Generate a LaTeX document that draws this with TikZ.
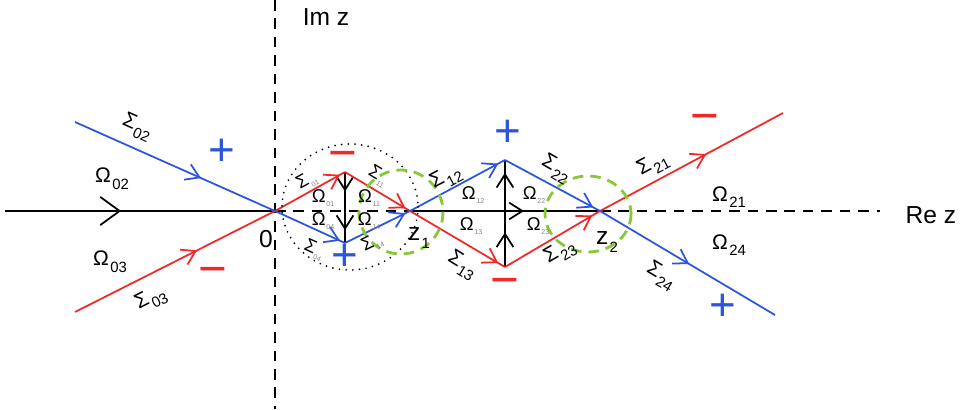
\documentclass[tikz,border=0pt]{standalone}
\usepackage{fontspec}
\setmainfont{Liberation Sans}
\usetikzlibrary{arrows.meta, decorations.markings}
\definecolor{ContourBlue}{RGB}{45, 85, 220}
\definecolor{ContourRed}{RGB}{240, 40, 40}
\definecolor{DiskGreen}{RGB}{135, 200, 55}
\newcommand{\sublab}[2]{#1\kern0.8pt\raisebox{-0.6ex}{\fontsize{8.5}{9}\selectfont #2}}
\newcommand{\tinylab}[2]{#1\kern0.5pt\raisebox{-0.45ex}{\fontsize{4}{4}\selectfont\color{gray}#2}}
\tikzset{
  flow/.style={postaction={decorate}, decoration={markings, mark=at position #1 with {\arrow{Straight Barb[length=7.5pt, width=9.5pt]}}}},
  bigflow/.style={postaction={decorate}, decoration={markings, mark=at position #1 with {\arrow{Straight Barb[length=11pt, width=16pt]}}}},
  axisdash/.style={dash pattern=on 6pt off 4.5pt, line width=0.8pt},
  lbl/.style={font=\fontsize{12}{14}\selectfont, inner sep=1pt},
  minilbl/.style={font=\fontsize{10.5}{12}\selectfont, inner sep=0.5pt},
  biglbl/.style={font=\fontsize{14}{16}\selectfont, inner sep=1pt},
  plussign/.style={font=\fontsize{26}{26}\selectfont, text=ContourBlue, inner sep=0pt},
  minussign/.style={font=\fontsize{28}{28}\selectfont, text=ContourRed, inner sep=0pt},
  greendisk/.style={DiskGreen, line width=1.6pt, dash pattern=on 6pt off 4pt}
}
\begin{document}
\begin{tikzpicture}[x=0.02cm, y=-0.02cm, line width=1pt]
  \useasboundingbox (0,0) rectangle (980,409);

  % points on the real axis
  \coordinate (O) at (275,211);
  \coordinate (z1) at (410,211);
  \coordinate (z2) at (600,211);
  % lens vertices
  \coordinate (a0) at (345,172);
  \coordinate (m0) at (345,211);
  \coordinate (b0) at (345,243);
  \coordinate (a1) at (505,160);
  \coordinate (m1) at (505,211);
  \coordinate (b1) at (505,267);
  % free ends
  \coordinate (imT) at (275,0);
  \coordinate (imB) at (275,409);
  \coordinate (reL) at (5,211);
  \coordinate (reR) at (880,211);
  \coordinate (e02) at (75,122);
  \coordinate (e03) at (75,312);
  \coordinate (e21) at (783,113);
  \coordinate (e24) at (775,315);

  % axes
  \draw[axisdash] (imT) -- (imB);
  \draw[bigflow=0.43] (reL) -- (O);
  \draw[axisdash] (O) -- (z1);
  \draw[flow=0.6] (z1) -- (z2);
  \draw[axisdash] (z2) -- (reR);
  \draw[flow=0.5] (a0) -- (m0);
  \draw[flow=0.6] (m0) -- (b0);
  \draw[flow=0.62] (b1) -- (m1);
  \draw[flow=0.75] (m1) -- (a1);

  % red contours
  \draw[ContourRed, flow=0.61] (e03) -- (O);
  \draw[ContourRed, flow=0.93] (O) -- (a0);
  \draw[ContourRed, flow=0.93] (a0) -- (z1);
  \draw[ContourRed, flow=0.93] (z1) -- (b1);
  \draw[ContourRed, flow=0.92] (b1) -- (z2);
  \draw[ContourRed, flow=0.58] (z2) -- (e21);

  % blue contours
  \draw[ContourBlue, flow=0.63] (e02) -- (O);
  \draw[ContourBlue, flow=0.93] (O) -- (b0);
  \draw[ContourBlue, flow=0.93] (b0) -- (z1);
  \draw[ContourBlue, flow=0.93] (z1) -- (a1);
  \draw[ContourBlue, flow=0.93] (a1) -- (z2);
  \draw[ContourBlue, flow=0.51] (z2) -- (e24);

  % disks
  \draw[line width=1.1pt, line cap=round, dash pattern=on 0pt off 3.8pt] (350,207) ellipse [x radius=68, y radius=63];
  \draw[greendisk] (401,212) circle [radius=42];
  \draw[greendisk] (588,214) ellipse [x radius=43, y radius=38];

  % axis labels
  \node[biglbl] (imz) at (326,17) {Im z};
  \node[biglbl] (rez) at (931,215) {Re z};
  \node[biglbl] (zero) at (266,239) {0};
  \node[biglbl] (zone) at (419,238) {\sublab{z}{1}};
  \node[biglbl] (ztwo) at (607,242) {\sublab{z}{2}};

  % outer labels
  \node[lbl, rotate=-24] (s02) at (137,127) {\sublab{Σ}{02}};
  \node[lbl] (o02) at (112,179) {\sublab{Ω}{02}};
  \node[lbl] (o03) at (110,262) {\sublab{Ω}{03}};
  \node[lbl, rotate=27] (s03) at (151,299) {\sublab{Σ}{03}};
  \node[lbl, rotate=28] (s21) at (653,165) {\sublab{Σ}{21}};
  \node[lbl] (o21) at (729,197) {\sublab{Ω}{21}};
  \node[lbl] (o24) at (729,245) {\sublab{Ω}{24}};
  \node[lbl, rotate=-31] (s24) at (661,276) {\sublab{Σ}{24}};

  % middle lens
  \node[lbl, rotate=28] (s12) at (446,178) {\sublab{Σ}{12}};
  \node[lbl, rotate=-30] (s22) at (556,169) {\sublab{Σ}{22}};
  \node[lbl, rotate=-32] (s13) at (462,265) {\sublab{Σ}{13}};
  \node[lbl, rotate=30] (s23) at (560,252) {\sublab{Σ}{23}};
  \node[minilbl] (o12) at (473,195) {\tinylab{Ω}{12}};
  \node[minilbl] (o13) at (471,226) {\tinylab{Ω}{13}};
  \node[minilbl] (o22) at (534,195) {\tinylab{Ω}{22}};
  \node[minilbl] (o23) at (538,226) {\tinylab{Ω}{23}};

  % small lens
  \node[minilbl, rotate=29] (s01) at (307,181) {\tinylab{Σ}{01}};
  \node[minilbl, rotate=-24] (s04) at (314,250) {\tinylab{Σ}{04}};
  \node[minilbl, rotate=-31] (s11) at (378,176) {\tinylab{Σ}{11}};
  \node[minilbl, rotate=26] (s14) at (372,243) {\tinylab{Σ}{14}};
  \node[minilbl] (o01) at (323,198) {\tinylab{Ω}{01}};
  \node[minilbl] (o04) at (323,221) {\tinylab{Ω}{04}};
  \node[minilbl] (o11) at (369,198) {\tinylab{Ω}{11}};
  \node[minilbl] (o14) at (369,221) {\tinylab{Ω}{14}};

  % signs
  \node[plussign] (p02) at (222,152) {+};
  \node[minussign] (n03) at (213,276) {−};
  \node[minussign] (n01) at (343,160) {−};
  \node[plussign] (p04) at (345,257) {+};
  \node[plussign] (p12) at (508,133) {+};
  \node[minussign] (n13) at (505,287) {−};
  \node[minussign] (n21) at (705,123) {−};
  \node[plussign] (p24) at (723,307) {+};
\end{tikzpicture}
\end{document}
